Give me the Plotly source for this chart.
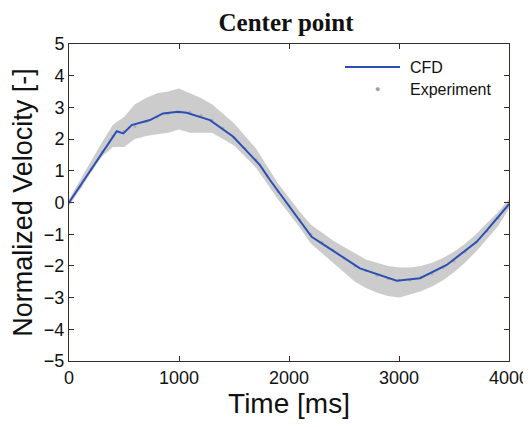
import plotly.graph_objects as go

# CFD curve
cfd_t = [0, 100, 200, 300, 434, 494, 570, 736, 855, 991, 1070, 1282, 1491, 1736,
         1827, 2000, 2206, 2343, 2500, 2645, 2979, 3191, 3434, 3706, 3800, 4000]
cfd_v = [0, 0.52, 1.04, 1.56, 2.25, 2.18, 2.44, 2.6, 2.81, 2.86, 2.83, 2.6, 2.08, 1.18,
         0.71, -0.11, -1.08, -1.39, -1.75, -2.08, -2.47, -2.39, -1.97, -1.24, -0.87, -0.05]

# Experiment: mean and scatter envelope
exp_t = list(range(0, 4001, 100))
exp_mean = [0, 0.5, 1.05, 1.6, 2.1, 2.25, 2.4, 2.55, 2.7, 2.8, 2.85, 2.85, 2.75, 2.6,
            2.35, 2.05, 1.7, 1.35, 0.85, 0.35, -0.1, -0.55, -1.0, -1.25, -1.5, -1.75,
            -2.0, -2.15, -2.3, -2.4, -2.45, -2.45, -2.35, -2.25, -2.05, -1.85, -1.55,
            -1.25, -0.9, -0.5, -0.05]
exp_up = [0.1, 0.7, 1.3, 1.9, 2.45, 2.7, 3.1, 3.3, 3.45, 3.5, 3.6, 3.45, 3.3, 3.1,
          2.8, 2.5, 2.1, 1.7, 1.15, 0.6, 0.15, -0.3, -0.7, -0.95, -1.2, -1.4, -1.6,
          -1.8, -1.9, -2.0, -2.05, -2.05, -2.0, -1.9, -1.75, -1.55, -1.3, -1.0, -0.65,
          -0.3, 0.1]
exp_lo = [-0.1, 0.4, 0.95, 1.45, 1.75, 1.75, 2.0, 2.1, 2.15, 2.2, 2.3, 2.2, 2.2, 2.2,
          2.0, 1.8, 1.45, 1.1, 0.6, 0.1, -0.35, -0.8, -1.3, -1.6, -1.9, -2.2, -2.5,
          -2.7, -2.85, -2.95, -3.0, -2.9, -2.8, -2.65, -2.45, -2.2, -1.9, -1.55, -1.15,
          -0.75, -0.2]

x_ticks = [0, 1000, 2000, 3000, 4000]
y_ticks = [-5, -4, -3, -2, -1, 0, 1, 2, 3, 4, 5]

OFF = 8  # page body margin
W, H = 531 - OFF, 427 - OFF
L, R, T, B = 69 - OFF, 509 - OFF, 44 - OFF, 361 - OFF


def px(xp):
    return (xp - OFF - L) / (R - L)


def py(yp):
    return (B - (yp - OFF)) / (B - T)


fig = go.Figure()
fig.add_trace(go.Scatter(x=exp_t, y=exp_lo, mode="lines", line=dict(width=0),
                         showlegend=False, hoverinfo="skip"))
fig.add_trace(go.Scatter(x=exp_t, y=exp_up, mode="lines", line=dict(width=0),
                         fill="tonexty", fillcolor="rgba(195,195,195,0.85)",
                         showlegend=False, hoverinfo="skip"))
fig.add_trace(go.Scatter(x=exp_t, y=exp_mean, mode="markers", name="Experiment",
                         marker=dict(color="#b0b0b0", size=3), showlegend=False))
fig.add_trace(go.Scatter(x=cfd_t, y=cfd_v, mode="lines", name="CFD",
                         line=dict(color="#2b4fb5", width=2), showlegend=False))

axis_common = dict(showline=True, linecolor="#3a2a22", linewidth=1, mirror="allticks",
                   ticks="inside", ticklen=5, tickcolor="#3a2a22", showgrid=False,
                   zeroline=False, automargin=False,
                   tickfont=dict(family="Liberation Sans, Arial", size=18, color="#111"))

sans = "Liberation Sans, Arial"

# manual legend
fig.add_shape(type="line", xref="paper", yref="paper", x0=px(345), x1=px(400),
              y0=py(67), y1=py(67), line=dict(color="#2b4fb5", width=2))
fig.add_annotation(xref="paper", yref="paper", x=px(377), y=py(89), text="●",
                   xanchor="center", yanchor="middle",
                   showarrow=False, font=dict(family=sans, size=9, color="#a0a0a0"))
fig.add_annotation(xref="paper", yref="paper", x=px(408), y=py(67), text="CFD",
                   xanchor="left", yanchor="middle", showarrow=False,
                   font=dict(family=sans, size=16, color="#111"))
fig.add_annotation(xref="paper", yref="paper", x=px(408), y=py(89), text="Experiment",
                   xanchor="left", yanchor="middle", showarrow=False,
                   font=dict(family=sans, size=16, color="#111"))

fig.update_layout(
    width=W, height=H,
    margin=dict(l=L, r=W - R, t=T, b=H - B),
    paper_bgcolor="white", plot_bgcolor="white",
    showlegend=False,
    title=dict(text="<b>Center point</b>", x=(286 - OFF) / W, xanchor="center",
               y=1 - (22 - OFF) / H, yanchor="middle",
               font=dict(family="Liberation Serif, Times New Roman", size=25, color="#111")),
    xaxis=dict(range=[0, 4000], tickvals=x_ticks,
               title=dict(text="Time [ms]", font=dict(family=sans, size=28, color="#111"),
                          standoff=1),
               **axis_common),
    yaxis=dict(range=[-5, 5], tickvals=y_ticks,
               title=dict(text="Normalized Velocity [-]",
                          font=dict(family=sans, size=27, color="#111"), standoff=9),
               **axis_common),
)

fig.write_html("out.html")
